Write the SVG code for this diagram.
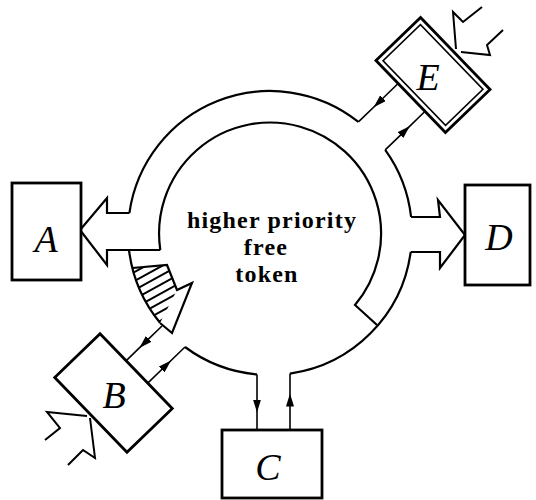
<svg xmlns="http://www.w3.org/2000/svg" width="536" height="500" viewBox="0 0 536 500">
<style>
.ring{fill:none;stroke:#000;stroke-width:2.2;stroke-linejoin:miter}
.wire{fill:none;stroke:#000;stroke-width:1.6}
.box{fill:#fff;stroke:#000;stroke-width:2.8}
.bolt{fill:none;stroke:#000;stroke-width:2;stroke-linejoin:miter}
.lbl{font-family:"Liberation Serif",serif;font-style:italic;font-size:38px;text-anchor:middle}
.mid{font-family:"Liberation Serif",serif;font-weight:bold;font-size:24px;text-anchor:middle;letter-spacing:1.2px}
.hatch{stroke:#000;stroke-width:2}
</style>
<defs>
<marker id="ah" viewBox="0 0 13 8" refX="6.5" refY="4" markerWidth="13" markerHeight="8" markerUnits="userSpaceOnUse" orient="auto">
<path d="M0,0 L13,4 L0,8 Z" fill="#000"/>
</marker>
<clipPath id="hclip">
<path d="M132.4,268 L167,265 L177,290 L160,323 A142 142 0 0 1 132.4,268 Z"/>
</clipPath>
</defs>

<g id="connectors">
<path class="ring" d="M129.4,213 A142 142 0 0 1 358.4,121.9"/>
<path class="ring" d="M385.2,149.9 A142 142 0 0 1 411.1,217"/>
<path class="ring" d="M411.1,217 L440,217 L438,200 L465,235 L440,268 L440,252 L410.7,252"/>
<path class="ring" d="M410.7,252 A142 142 0 0 1 290,373.6"/>
<path class="ring" d="M257,374.4 A142 142 0 0 1 185,347"/>
<path class="ring" d="M160,322.8 A142 142 0 0 1 129,250"/>
<path class="ring" d="M129.4,213 L107,213 L107,198 L80,230 L107,265 L107,250 L160.3,250"/>
<path class="ring" d="M160.3,250 A111 111 0 1 1 355,305 L377,325"/>
<g id="token-mark">
<g clip-path="url(#hclip)">
<path class="hatch" d="M120,280 L200,236 M120,289 L200,245 M120,298 L200,254 M120,307 L200,263 M120,316 L200,272 M120,325 L200,281 M120,334 L200,290 M120,343 L200,299 M120,352 L200,308"/>
</g>
<path class="ring" d="M132.4,268 L167,265 L177,290 L192,283 L172,333 L160,323"/>
</g>
<path class="wire" d="M398.1,83.5 L378.3,102.7 L358.4,121.9" marker-mid="url(#ah)"/>
<path class="wire" d="M385.2,149.9 L405.2,130.6 L425.1,111.3" marker-mid="url(#ah)"/>
<path class="wire" d="M257,374.4 L257,406 L257,430" marker-mid="url(#ah)"/>
<path class="wire" d="M290,430 L290,400 L290,373.6" marker-mid="url(#ah)"/>
<path class="wire" d="M162,326 L144,343.4 L126,360.8" marker-mid="url(#ah)"/>
<path class="wire" d="M147.7,383.1 L166.4,365 L185,347" marker-mid="url(#ah)"/>
</g>

<g id="label-center">
<text class="mid" x="272" y="228">higher priority</text>
<text class="mid" x="266" y="255">free</text>
<text class="mid" x="267" y="282">token</text>
</g>

<g id="node-A">
<rect class="box" x="12" y="183" width="69" height="97"/>
<text class="lbl" x="46" y="252">A</text>
</g>

<g id="node-D">
<rect class="box" x="465" y="185" width="65" height="100"/>
<text class="lbl" x="499" y="250">D</text>
</g>

<g id="node-C">
<rect class="box" x="222" y="430" width="100" height="68"/>
<text class="lbl" x="268" y="480">C</text>
</g>

<g id="node-B">
<path class="bolt" d="M45,440 L60,428 L47,412 L87,416 M68,465 L83,450 L95,458 L90,418"/>
<rect class="box" x="-52" y="-31.5" width="104" height="63" transform="translate(113.5,393) rotate(46)"/>
<text class="lbl" x="114" y="408">B</text>
</g>

<g id="node-E">
<path class="bolt" d="M456,49 L453,12 L463,22 L482,7 M461,52 L490,55 L487,45 L503,30"/>
<g transform="translate(433,75) rotate(46)">
<rect class="box" x="-50" y="-31" width="100" height="62"/>
<rect x="-45" y="-26" width="90" height="52" fill="none" stroke="#000" stroke-width="1.6"/>
</g>
<text class="lbl" x="428" y="90">E</text>
</g>
</svg>
